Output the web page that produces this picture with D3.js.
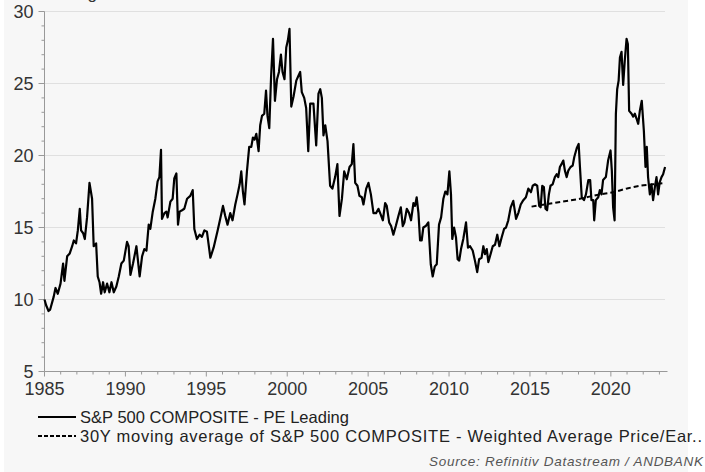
<!DOCTYPE html>
<html>
<head>
<meta charset="utf-8">
<script src="https://cdn.jsdelivr.net/npm/d3@7"></script>
<style>
  body { margin: 0; background: #ffffff; }
  svg { display: block; font-family: "Liberation Sans", Arial, sans-serif; }
</style>
</head>
<body>
<script>
/*
 * S&P 500 forward PE with its 30Y moving average
 */

// decimal year of each reading
var peDates = [
  1985.00, 1985.10, 1985.25, 1985.35, 1985.57, 1985.68, 1985.82, 1985.99,
  1986.15, 1986.23, 1986.40, 1986.56, 1986.71, 1986.81, 1986.95,
  1987.06, 1987.18, 1987.26, 1987.39, 1987.49, 1987.63, 1987.78, 1987.94,
  1988.04, 1988.19, 1988.29, 1988.40, 1988.50, 1988.62, 1988.72, 1988.87,
  1989.01, 1989.14, 1989.28, 1989.44, 1989.59, 1989.75, 1989.90,
  1990.10, 1990.20, 1990.31, 1990.47, 1990.68, 1990.88,
  1991.03, 1991.17, 1991.30, 1991.44, 1991.54, 1991.69, 1991.85, 1991.99,
  1992.10, 1992.20, 1992.26, 1992.41, 1992.53, 1992.61, 1992.78, 1992.92,
  1993.02, 1993.15, 1993.25, 1993.35, 1993.50, 1993.64, 1993.81,
  1994.01, 1994.16, 1994.26, 1994.42, 1994.59, 1994.73, 1994.88,
  1995.04, 1995.25, 1995.45, 1995.70, 1995.86,
  1996.03, 1996.17, 1996.31, 1996.48, 1996.62, 1996.79, 1996.93,
  1997.06, 1997.16, 1997.26, 1997.36, 1997.51, 1997.65, 1997.78, 1997.88, 1997.98,
  1998.09, 1998.23, 1998.33, 1998.44, 1998.58, 1998.69, 1998.78, 1998.89,
  1999.00, 1999.12, 1999.24, 1999.37, 1999.49, 1999.61, 1999.71, 1999.83, 1999.94,
  2000.04, 2000.14, 2000.25, 2000.39, 2000.56, 2000.68, 2000.80, 2000.90,
  2001.05, 2001.17, 2001.30, 2001.42, 2001.62, 2001.79, 2001.93,
  2002.04, 2002.14, 2002.24, 2002.35, 2002.49, 2002.65, 2002.79, 2002.96,
  2003.10, 2003.23, 2003.38, 2003.52, 2003.68, 2003.85, 2003.99,
  2004.09, 2004.20, 2004.34, 2004.46, 2004.61, 2004.71, 2004.88,
  2005.02, 2005.17, 2005.33, 2005.49, 2005.64, 2005.78, 2005.91,
  2006.05, 2006.15, 2006.30, 2006.42, 2006.56, 2006.71, 2006.87,
  2007.02, 2007.14, 2007.24, 2007.39, 2007.53, 2007.65, 2007.80, 2007.90,
  2008.00, 2008.11, 2008.21, 2008.31, 2008.41, 2008.56, 2008.72, 2008.87, 2008.99,
  2009.12, 2009.24, 2009.38, 2009.51, 2009.65, 2009.77, 2009.90,
  2010.02, 2010.12, 2010.20, 2010.31, 2010.43, 2010.53, 2010.63, 2010.74, 2010.88,
  2011.05, 2011.17, 2011.30, 2011.46, 2011.60, 2011.74, 2011.86,
  2012.01, 2012.12, 2012.22, 2012.33, 2012.43, 2012.53, 2012.70, 2012.84, 2012.98,
  2013.11, 2013.25, 2013.40, 2013.52, 2013.66, 2013.81, 2013.97,
  2014.14, 2014.28, 2014.43, 2014.59, 2014.75, 2014.90,
  2015.06, 2015.17, 2015.31, 2015.45, 2015.57, 2015.66, 2015.76, 2015.86, 2015.96,
  2016.06, 2016.17, 2016.27, 2016.40, 2016.54, 2016.65, 2016.75, 2016.85, 2016.95,
  2017.06, 2017.16, 2017.27, 2017.37, 2017.51, 2017.64, 2017.74, 2017.89,
  2018.01, 2018.09, 2018.20, 2018.34, 2018.46, 2018.61, 2018.72, 2018.80, 2018.91, 2018.97,
  2019.07, 2019.22, 2019.32, 2019.42, 2019.52, 2019.69, 2019.83, 2019.98,
  2020.06, 2020.14, 2020.23, 2020.31, 2020.39, 2020.48, 2020.56, 2020.66, 2020.76, 2020.86, 2020.97,
  2021.05, 2021.13, 2021.28, 2021.38, 2021.48, 2021.59, 2021.69, 2021.79, 2021.91,
  2022.04, 2022.14, 2022.22, 2022.30, 2022.41, 2022.51, 2022.61, 2022.72, 2022.82, 2022.92,
  2023.02, 2023.13, 2023.23, 2023.35
];

var peValues = [
  10.0, 9.6, 9.2, 9.3, 10.2, 10.8, 10.4, 11.1,
  12.5, 11.3, 13.0, 13.2, 13.7, 14.1, 13.9,
  14.8, 16.3, 14.8, 14.6, 14.2, 15.7, 18.1, 17.0,
  13.7, 13.9, 11.6, 11.2, 10.4, 11.2, 10.5, 11.1,
  10.5, 11.2, 10.5, 10.9, 11.6, 12.5, 12.7,
  14.0, 13.7, 11.7, 12.5, 13.7, 11.6,
  13.0, 13.5, 13.4, 15.2, 14.9, 16.1, 17.0, 18.2,
  18.5, 20.4, 15.6, 16.0, 16.1, 15.7, 16.8, 17.0,
  18.4, 18.75, 15.2, 16.1, 16.2, 16.3, 17.0,
  17.2, 17.6, 14.9, 14.2, 14.5, 14.35, 14.8,
  14.7, 12.9, 13.6, 14.8, 15.6,
  16.5, 15.8, 15.2, 16.0, 15.5, 16.6, 17.3,
  18.0, 18.9, 17.5, 16.6, 18.9, 20.6, 20.6, 21.25, 21.1,
  21.5, 20.3, 22.1, 22.75, 22.9, 24.5, 22.75, 21.9,
  25.4, 28.1, 23.8, 25.3, 25.8, 27.0, 25.8, 25.3, 27.5,
  28.0, 28.8, 23.4, 24.1, 25.2, 25.5, 25.8, 24.4,
  24.0, 23.3, 20.3, 23.6, 23.6, 20.7, 24.3,
  24.6, 24.0, 21.4, 22.1, 21.0, 17.9, 17.7, 18.5,
  19.4, 15.8, 17.0, 18.9, 18.35, 19.2, 19.4,
  20.8, 18.1, 17.9, 17.2, 17.1, 16.6, 17.7,
  18.1, 17.3, 16.0, 16.0, 16.3, 15.9, 15.5,
  16.7, 16.5, 15.35, 15.1, 14.5, 15.1, 15.8,
  16.4, 15.1, 15.35, 16.3, 16.0, 15.5, 16.7, 16.5,
  17.1, 16.0, 14.1, 14.1, 15.0, 15.1, 15.35, 12.45, 11.6,
  12.3, 12.45, 15.2, 15.7, 17.0, 17.5, 17.3,
  18.9, 17.3, 14.2, 15.0, 14.3, 12.8, 12.7, 13.5, 14.2,
  15.35, 13.6, 13.7, 13.4, 12.7, 11.9, 12.8,
  12.9, 13.7, 13.15, 13.5, 12.6, 13.0, 13.7, 13.8, 14.5,
  13.7, 14.3, 14.9, 15.0, 15.5, 16.4, 16.85,
  15.6, 16.0, 16.6, 16.9, 17.1, 17.7,
  17.45, 17.9, 18.0, 17.9, 16.5, 16.4, 17.9, 17.8, 16.3,
  16.2, 17.3, 17.9, 18.0, 18.5, 18.7, 18.5, 19.2, 19.4,
  19.65, 18.95, 18.5, 18.95, 19.2, 19.3, 19.9, 20.5,
  20.8, 19.2, 17.1, 16.9, 17.3, 18.3, 18.3, 16.9, 16.9, 15.5,
  16.9, 17.1, 17.6, 17.3, 18.3, 18.5, 19.65, 20.35,
  18.95, 16.4, 15.5, 22.9, 24.6, 25.2, 26.8, 27.2, 24.9, 26.6, 28.1,
  27.75, 23.1, 22.9, 22.7, 22.9, 22.55, 22.2, 23.1, 23.8,
  21.7, 19.2, 20.6, 18.5, 17.3, 18.0, 16.9, 17.8, 18.5, 17.3,
  18.15, 18.5, 18.7, 19.2
];

// 30Y moving average (dashed)
var maDates = [2015.10, 2016.44, 2018.09, 2019.32, 2020.14, 2020.97, 2021.79, 2022.61, 2023.35];
var maValues = [16.45, 16.7, 17.0, 17.3, 17.45, 17.7, 17.9, 18.0, 18.1];

var yTicks = [5, 10, 15, 20, 25, 30];
var xTicks = [1985, 1990, 1995, 2000, 2005, 2010, 2015, 2020];

var legendLabels = [
  "S&P 500 COMPOSITE - PE Leading",
  "30Y moving average of S&P 500 COMPOSITE - Weighted Average Price/Ear.."
];
var sourceText = "Source: Refinitiv Datastream / ANDBANK";

function drawChart() {
    var width = 705,
        height = 472;

    var svg = d3.select("body").append("svg")
        .attr("width", width)
        .attr("height", height);

    // grey panel
    svg.append("rect")
        .attr("x", 4).attr("y", 0)
        .attr("width", 684).attr("height", height)
        .attr("fill", "#f7f7f7");

    var x = d3.scaleLinear().domain([1985, 2023.5]).range([44.5, 667.5]);
    var y = d3.scaleLinear().domain([5, 30]).range([371.5, 11.5]);

    // cut-off title at the very top
    svg.append("text")
        .attr("x", 97).attr("y", -1)
        .attr("text-anchor", "end")
        .attr("font-size", 17)
        .attr("fill", "#333")
        .text("PE Leading");

    // dotted grid lines
    svg.append("g")
        .selectAll("line")
        .data(yTicks.filter(function(d) { return d > 5; }))
        .enter().append("line")
        .attr("x1", x(1985)).attr("x2", 665)
        .attr("y1", function(d) { return y(d); })
        .attr("y2", function(d) { return y(d); })
        .attr("stroke", "#c8c8c8")
        .attr("stroke-width", 1)
        .attr("stroke-dasharray", "1,1");

    // y axis with minor ticks
    var yMinor = d3.range(5, 31, 1);
    var yAxis = svg.append("g")
        .attr("transform", "translate(" + x(1985) + ",0)");
    yAxis.append("line")
        .attr("y1", y(30)).attr("y2", y(5))
        .attr("stroke", "#999");
    yAxis.selectAll("line.minor")
        .data(yMinor)
        .enter().append("line")
        .attr("class", "minor")
        .attr("x1", function(d) { return d % 5 == 0 ? -6 : -3; })
        .attr("x2", 0)
        .attr("y1", function(d) { return y(d); })
        .attr("y2", function(d) { return y(d); })
        .attr("stroke", "#999");
    yAxis.selectAll("text")
        .data(yTicks)
        .enter().append("text")
        .attr("x", -11)
        .attr("y", function(d) { return y(d); })
        .attr("dy", "0.35em")
        .attr("text-anchor", "end")
        .attr("font-size", 18)
        .attr("fill", "#333")
        .text(function(d) { return d; });

    // x axis with yearly ticks
    var xMinor = d3.range(1985, 2024, 1);
    var xAxis = svg.append("g")
        .attr("transform", "translate(0," + y(5) + ")");
    xAxis.append("line")
        .attr("x1", x(1985)).attr("x2", x(2023.5))
        .attr("stroke", "#999");
    xAxis.selectAll("line.minor")
        .data(xMinor)
        .enter().append("line")
        .attr("class", "minor")
        .attr("x1", function(d) { return x(d); })
        .attr("x2", function(d) { return x(d); })
        .attr("y1", 0)
        .attr("y2", function(d) { return d % 5 == 0 ? 5 : 3; })
        .attr("stroke", "#999");
    xAxis.selectAll("text")
        .data(xTicks)
        .enter().append("text")
        .attr("x", function(d) { return x(d); })
        .attr("y", 23)
        .attr("text-anchor", "middle")
        .attr("font-size", 18)
        .attr("fill", "#333")
        .text(function(d) { return d; });

    // series
    var peData = peDates.map(function(d, i) { return [d, peValues[i]]; });
    var maData = maDates.map(function(d, i) { return [d, maValues[i]]; });

    var line = d3.line()
        .x(function(d) { return x(d[0]); })
        .y(function(d) { return y(d[1]); });

    svg.append("path")
        .datum(maData)
        .attr("d", line.curve(d3.curveMonotoneX))
        .attr("fill", "none")
        .attr("stroke", "#000")
        .attr("stroke-width", 2)
        .attr("stroke-dasharray", "5,3");

    svg.append("path")
        .datum(peData)
        .attr("d", line.curve(d3.curveLinear))
        .attr("fill", "none")
        .attr("stroke", "#000")
        .attr("stroke-width", 2.2)
        .attr("stroke-linejoin", "round");

    // legend, widths stretched to match the original rendering
    var legendWidths = [269, 622];
    var legend = svg.append("g");
    legendLabels.forEach(function(label, i) {
        var ly = 417 + i * 19;
        legend.append("line")
            .attr("x1", 38).attr("x2", 76)
            .attr("y1", ly).attr("y2", ly)
            .attr("stroke", "#000")
            .attr("stroke-width", 2)
            .attr("stroke-dasharray", i == 0 ? null : "4,2");
        legend.append("text")
            .attr("x", 80).attr("y", ly)
            .attr("dy", "0.35em")
            .attr("font-size", 16.5)
            .attr("fill", "#222")
            .attr("textLength", legendWidths[i])
            .attr("lengthAdjust", "spacing")
            .text(label);
    });

    svg.append("text")
        .attr("x", 703).attr("y", 466)
        .attr("text-anchor", "end")
        .attr("font-size", 13.5)
        .attr("font-style", "italic")
        .attr("fill", "#555")
        .attr("textLength", 274)
        .attr("lengthAdjust", "spacing")
        .text(sourceText);
}

drawChart();
</script>
</body>
</html>
